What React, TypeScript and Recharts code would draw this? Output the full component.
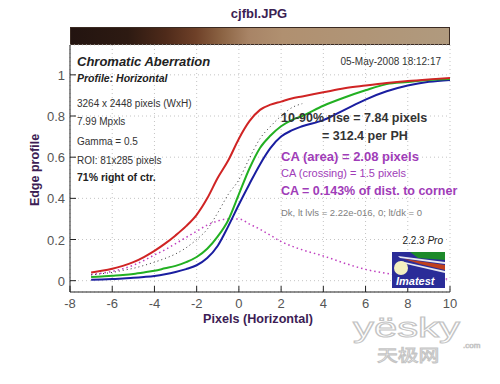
import { CartesianGrid, Line, LineChart, XAxis, YAxis } from "recharts";

// pixel position across the edge
const PIXELS = [
  -7, -6.5, -6, -5.5, -5, -4.5, -4, -3.5, -3, -2.5, -2, -1.5, -1, -0.5, 0, 0.5,
  1, 1.5, 2, 2.5, 3, 4, 5, 6, 7, 8, 9, 10,
];

const RED = [
  0.04, 0.048, 0.058, 0.072, 0.09, 0.115, 0.145, 0.18, 0.22, 0.265, 0.32, 0.4,
  0.5, 0.585, 0.69, 0.775, 0.83, 0.855, 0.87, 0.885, 0.895, 0.915, 0.935, 0.948,
  0.96, 0.97, 0.978, 0.985,
];
const GREEN = [
  0.018, 0.02, 0.024, 0.028, 0.033, 0.04, 0.048, 0.06, 0.072, 0.09, 0.115,
  0.155, 0.215, 0.295, 0.42, 0.545, 0.645, 0.705, 0.75, 0.78, 0.8, 0.85, 0.89,
  0.925, 0.955, 0.965, 0.975, 0.98,
];
const BLUE = [
  0.005, 0.006, 0.008, 0.011, 0.014, 0.018, 0.023, 0.031, 0.042, 0.056, 0.075,
  0.11, 0.17, 0.265, 0.37, 0.47, 0.565, 0.645, 0.7, 0.73, 0.75, 0.78, 0.83,
  0.88, 0.92, 0.948, 0.966, 0.975,
];
// luminance (black dotted)
const LUMA = [
  0.028, 0.034, 0.04, 0.05, 0.06, 0.074, 0.09, 0.108, 0.13, 0.16, 0.2, 0.25,
  0.33, 0.42, 0.49, 0.595, 0.69, 0.75, 0.8, 0.84, 0.86, null, null, null, null,
  null, null, null,
];
// magenta dotted difference curve
const DIFF = [
  0.03, 0.036, 0.045, 0.058, 0.075, 0.098, 0.125, 0.15, 0.18, 0.21, 0.24, 0.27,
  0.29, 0.3, 0.3, 0.275, 0.25, 0.22, 0.19, 0.168, 0.15, 0.12, 0.085, 0.055,
  0.035, 0.02, 0.012, 0.008,
];

const X_TICKS = [-8, -6, -4, -2, 0, 2, 4, 6, 8, 10];
const Y_TICKS = [0, 0.2, 0.4, 0.6, 0.8, 1];

const INFO_LINES = [
  "3264 x 2448 pixels (WxH)",
  "7.99 Mpxls",
  "Gamma = 0.5",
  "ROI: 81x285 pixels",
];

const data = PIXELS.map((x, i) => ({
  x,
  red: RED[i],
  green: GREEN[i],
  blue: BLUE[i],
  luma: LUMA[i],
  diff: DIFF[i],
}));

const FONT = "Arial, 'Liberation Sans', sans-serif";
const PURPLE = "#a03cb8";

function LeftTick({ x, y, payload }: any) {
  const label = String(Math.round(payload.value * 10) / 10);
  return (
    <g>
      <line x1={x} x2={x + 6} y1={y} y2={y} stroke="#222" />
      <text x={x - 5} y={y + 5} textAnchor="end" fontSize={13} fill="#555" fontFamily={FONT}>
        {label}
      </text>
    </g>
  );
}

function RightTick({ x, y }: any) {
  return <line x1={x - 6} x2={x} y1={y} y2={y} stroke="#222" />;
}

function BottomTick({ x, y, payload }: any) {
  return (
    <g>
      <line x1={x} x2={x} y1={y - 6} y2={y} stroke="#222" />
      <text x={x} y={y + 16} textAnchor="middle" fontSize={13} fill="#555" fontFamily={FONT}>
        {String(payload.value)}
      </text>
    </g>
  );
}

function TopTick({ x, y }: any) {
  return <line x1={x} x2={x} y1={y} y2={y + 7} stroke="#222" />;
}

export default function App() {
  return (
    <div
      style={{
        position: "absolute",
        left: 0,
        top: 0,
        width: 500,
        height: 384,
        background: "#fff",
        fontFamily: FONT,
      }}
    >
      <div
        style={{
          position: "absolute",
          left: 70,
          top: 27,
          width: 380,
          height: 18,
          boxSizing: "border-box",
          border: "1px solid #3a2a22",
          background:
            "linear-gradient(to right, #231410 0%, #2d1a12 15%, #4e2a1a 25%, #6e4028 33%, #8c6444 40%, #a88466 47%, #b09070 56%, #b09a7e 100%)",
        }}
      />
      <LineChart
        width={500}
        height={384}
        data={data}
        margin={{ top: 45, right: 50, bottom: 62, left: 30 }}
      >
        <CartesianGrid stroke="#c4c4c4" strokeDasharray="1 3" />
        <XAxis
          dataKey="x"
          type="number"
          domain={[-8, 10]}
          ticks={X_TICKS}
          interval={0}
          height={30}
          tickSize={0}
          tickMargin={0}
          tick={<BottomTick />}
          axisLine={{ stroke: "#222" }}
        />
        <XAxis
          xAxisId="top"
          orientation="top"
          type="number"
          domain={[-8, 10]}
          ticks={X_TICKS}
          interval={0}
          height={0}
          tickSize={0}
          tickMargin={0}
          tick={<TopTick />}
          axisLine={false}
        />
        <YAxis
          type="number"
          domain={[-0.055, 1.145]}
          ticks={Y_TICKS}
          interval={0}
          width={40}
          tickSize={0}
          tickMargin={0}
          tick={<LeftTick />}
          axisLine={{ stroke: "#222" }}
        />
        <YAxis
          yAxisId="right"
          orientation="right"
          type="number"
          domain={[-0.055, 1.145]}
          ticks={Y_TICKS}
          interval={0}
          width={0}
          tickSize={0}
          tickMargin={0}
          tick={<RightTick />}
          axisLine={{ stroke: "#222" }}
        />
        <Line
          type="monotone"
          dataKey="diff"
          stroke="#c040c0"
          strokeWidth={1.5}
          strokeDasharray="1.5 3"
          dot={false}
          isAnimationActive={false}
        />
        <Line
          type="monotone"
          dataKey="luma"
          stroke="#333"
          strokeWidth={1}
          strokeDasharray="1 3"
          dot={false}
          isAnimationActive={false}
        />
        <Line
          type="monotone"
          dataKey="blue"
          stroke="#1a1ea0"
          strokeWidth={2}
          dot={false}
          isAnimationActive={false}
        />
        <Line
          type="monotone"
          dataKey="green"
          stroke="#22b022"
          strokeWidth={2}
          dot={false}
          isAnimationActive={false}
        />
        <Line
          type="monotone"
          dataKey="red"
          stroke="#d02424"
          strokeWidth={2}
          dot={false}
          isAnimationActive={false}
        />
      </LineChart>
      <svg
        width={500}
        height={384}
        style={{ position: "absolute", left: 0, top: 0, pointerEvents: "none" }}
        fontFamily={FONT}
      >
        <text x={259} y={18} textAnchor="middle" fontSize={13} fontWeight="bold" fill="#3b2152">
          cjfbl.JPG
        </text>
        <text x={77} y={66} fontSize={13} fontWeight="bold" fontStyle="italic" fill="#222">
          Chromatic Aberration
        </text>
        <text x={77} y={82} fontSize={10.5} fontWeight="bold" fontStyle="italic" fill="#222">
          Profile: Horizontal
        </text>
        {INFO_LINES.map((t, i) => (
          <text key={t} x={77} y={[107, 125, 145, 164][i]} fontSize={10} fill="#333">
            {t}
          </text>
        ))}
        <text x={77} y={181} fontSize={10.5} fontWeight="bold" fill="#222">
          71% right of ctr.
        </text>
        <text x={441} y={65} textAnchor="end" fontSize={10} fill="#333">
          05-May-2008 18:12:17
        </text>
        <text x={281} y={122} fontSize={12.5} fontWeight="bold" fill="#333">
          10-90% rise = 7.84 pixels
        </text>
        <text x={322} y={140} fontSize={12.5} fontWeight="bold" fill="#333">
          = 312.4 per PH
        </text>
        <text x={281} y={161} fontSize={13} fontWeight="bold" fill={PURPLE}>
          CA (area) = 2.08 pixels
        </text>
        <text x={281} y={177} fontSize={11} fill={PURPLE}>
          CA (crossing) = 1.5 pixels
        </text>
        <text x={281} y={195} fontSize={12.5} fontWeight="bold" fill={PURPLE}>
          CA = 0.143% of dist. to corner
        </text>
        <text x={281} y={216} fontSize={9.5} fill="#808080">
          Dk, lt lvls = 2.22e-016, 0;  lt/dk = 0
        </text>
        <text x={443} y={244} textAnchor="end" fontSize={10} fill="#222">
          2.2.3 <tspan fontStyle="italic">Pro</tspan>
        </text>
        <text
          transform="translate(39,170) rotate(-90)"
          textAnchor="middle"
          fontSize={12.5}
          fontWeight="bold"
          fill="#3d1d55"
        >
          Edge profile
        </text>
        <text x={258} y={323} textAnchor="middle" fontSize={12.6} fontWeight="bold" fill="#3d1d55">
          Pixels (Horizontal)
        </text>
        {/* Imatest logo */}
        <rect x={392} y={252} width={53} height={36} fill="#2a2c98" />
        <polygon points="410,252 445,252 445,260 418,258" fill="#1d8a2a" />
        <polygon points="398,256 445,262 445,264 400,258" fill="#e8e8f0" />
        <polygon points="404,259 445,265 445,270 420,264" fill="#c0401c" />
        <polygon points="400,261 445,271 445,273 402,263" fill="#e8e8f0" />
        <circle cx={401} cy={268} r={7} fill="#f2efc0" />
        <text x={396} y={285} fontSize={11} fontWeight="bold" fontStyle="italic" fill="#fff">
          Imatest
        </text>
        {/* yesky watermark */}
        <text
          transform="translate(353,337) scale(1.55,1)"
          fontSize={27}
          fill="#fff"
          stroke="#c4c4c4"
          strokeWidth={1}
        >
          yësky
        </text>
        <text x={463} y={348} fontSize={8} fill="#fff" stroke="#c4c4c4" strokeWidth={0.7}>
          .com
        </text>
        <text
          transform="translate(377,361) scale(1.3,1)"
          fontSize={16}
          fontFamily="'Noto Sans CJK SC', sans-serif"
          fill="#fff"
          stroke="#c4c4c4"
          strokeWidth={0.9}
        >
          天极网
        </text>
      </svg>
    </div>
  );
}
